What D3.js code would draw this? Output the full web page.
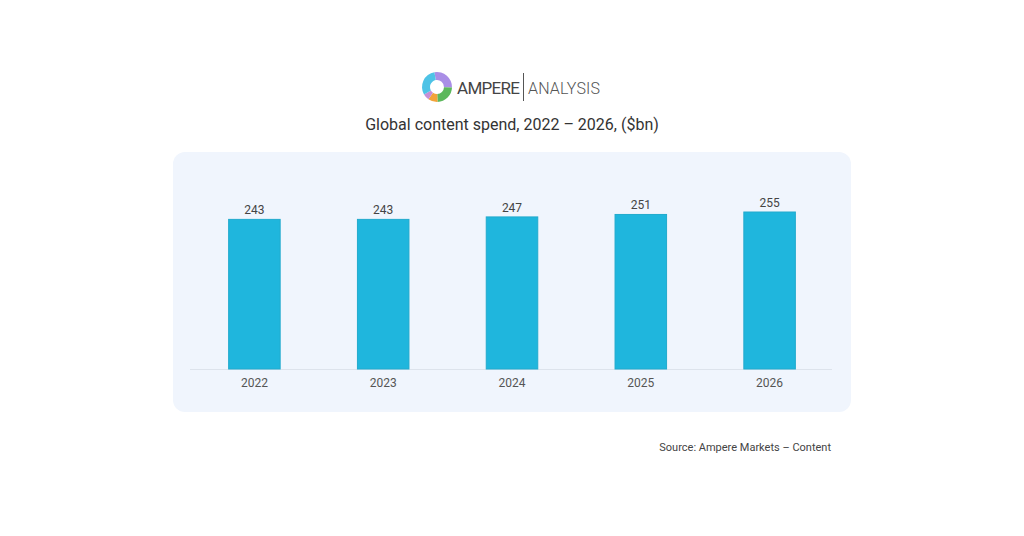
<!DOCTYPE html>
<html lang="en">
<head>
  <meta charset="UTF-8">
  <script src="https://d3js.org/d3.v7.min.js"></script>
  <style>
    body { margin: 0; background: #fff; }
    text { font-family: Roboto, "Noto Sans", sans-serif; }
  </style>
  <title>Global content spend</title>
</head>
<body>
  <svg id="chart" width="1024" height="536"></svg>
  <script>
    // data
    var years = ["2022", "2023", "2024", "2025", "2026"];
    var spend = [243, 243, 247, 251, 255];
    var logoParts = [
      { start: -10, end: 92, color: "#a98ee6" },
      { start: 92, end: 178, color: "#5cb85c" },
      { start: 178, end: 215, color: "#f2a33a" },
      { start: 215, end: 240, color: "#c78fd6" },
      { start: 240, end: 350, color: "#4ec3e6" }
    ];

    var svg = d3.select("#chart");

    // logo
    var logo = svg.append("g").attr("transform", "translate(437,87)");
    var arc = d3.arc().innerRadius(7).outerRadius(15);
    logo.selectAll("path")
      .data(logoParts)
      .enter().append("path")
      .attr("d", d => arc({ startAngle: d.start * Math.PI / 180, endAngle: d.end * Math.PI / 180 }))
      .attr("fill", d => d.color);

    svg.append("text")
      .attr("x", 457).attr("y", 94)
      .attr("font-family", "Lato, sans-serif")
      .attr("font-size", 17).attr("fill", "#444")
      .attr("textLength", 63)
      .text("AMPERE");
    svg.append("line")
      .attr("x1", 523.5).attr("x2", 523.5)
      .attr("y1", 73).attr("y2", 101)
      .attr("stroke", "#555").attr("stroke-width", 1);
    svg.append("text")
      .attr("x", 528).attr("y", 94)
      .attr("font-family", "Lato, sans-serif")
      .attr("font-size", 16).attr("fill", "#555").attr("font-weight", 300)
      .attr("textLength", 72)
      .text("ANALYSIS");

    // title
    svg.append("text")
      .attr("x", 512).attr("y", 130)
      .attr("text-anchor", "middle")
      .attr("font-size", 16).attr("fill", "#333")
      .text("Global content spend, 2022 \u2013 2026, ($bn)");

    // panel
    svg.append("rect")
      .attr("x", 173).attr("y", 152)
      .attr("width", 678).attr("height", 260)
      .attr("rx", 12)
      .attr("fill", "#f0f5fd");

    var x = d3.scaleBand()
      .domain(years)
      .range([190, 834])
      .paddingInner(0.6)
      .paddingOuter(0.3);

    var y = d3.scaleLinear()
      .domain([0, 255])
      .range([369, 212]);

    // baseline
    svg.append("line")
      .attr("x1", 190).attr("x2", 832)
      .attr("y1", 369.5).attr("y2", 369.5)
      .attr("stroke", "#dde3ec");

    svg.selectAll("rect.bar")
      .data(spend)
      .enter().append("rect")
      .attr("class", "bar")
      .attr("x", (d, i) => x(years[i]))
      .attr("y", d => y(d))
      .attr("width", x.bandwidth())
      .attr("height", d => y(0) - y(d))
      .attr("fill", "#1fb6dd")
      .attr("stroke", "#22aacd")
      .attr("stroke-width", 1);

    svg.selectAll("text.val")
      .data(spend)
      .enter().append("text")
      .attr("class", "val")
      .attr("x", (d, i) => x(years[i]) + x.bandwidth() / 2)
      .attr("y", d => y(d) - 5)
      .attr("text-anchor", "middle")
      .attr("font-size", 12).attr("fill", "#444")
      .text(d => d);

    svg.selectAll("text.year")
      .data(years)
      .enter().append("text")
      .attr("class", "year")
      .attr("x", d => x(d) + x.bandwidth() / 2)
      .attr("y", 387)
      .attr("text-anchor", "middle")
      .attr("font-size", 12).attr("fill", "#555")
      .text(d => d);

    // source
    svg.append("text")
      .attr("x", 831).attr("y", 451)
      .attr("text-anchor", "end")
      .attr("font-size", 11).attr("fill", "#444")
      .text("Source: Ampere Markets \u2013 Content");
  </script>
</body>
</html>
